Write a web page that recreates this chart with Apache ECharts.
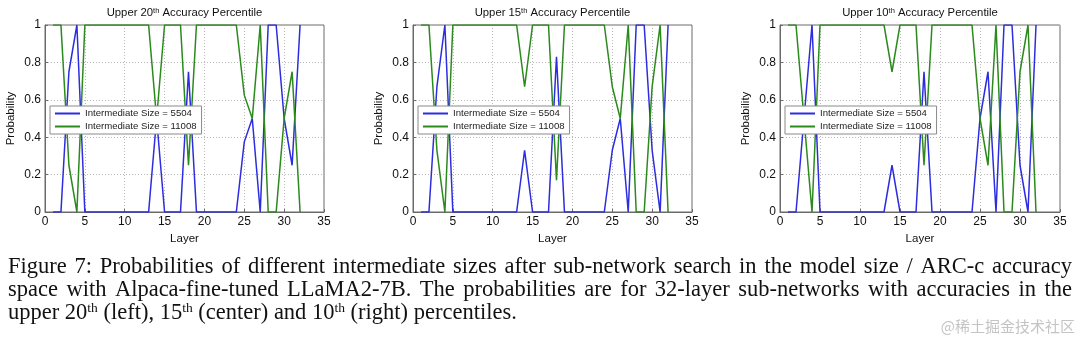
<!DOCTYPE html>
<html>
<head>
<meta charset="utf-8">
<script src="https://cdn.jsdelivr.net/npm/echarts@6/dist/echarts.min.js"></script>
<style>
  html, body { margin: 0; padding: 0; background: #fff; }
  #chart { width: 1080px; height: 340px; }
</style>
</head>
<body>
<div id="chart"></div>
<script>
// Layer indices of the 32-layer sub-networks
const layers = [1, 2, 3, 4, 5, 6, 7, 8, 9, 10, 11, 12, 13, 14, 15, 16,
                17, 18, 19, 20, 21, 22, 23, 24, 25, 26, 27, 28, 29, 30, 31, 32];

// Upper 20th percentile
const p20_5504  = [0, 0, 0.75, 1, 0, 0, 0, 0, 0, 0, 0, 0, 0, 0.5, 0, 0,
                   0, 0.75, 0, 0, 0, 0, 0, 0, 0.375, 0.5, 0, 1, 1, 0.5, 0.25, 1];
const p20_11008 = [1, 1, 0.25, 0, 1, 1, 1, 1, 1, 1, 1, 1, 1, 0.5, 1, 1,
                   1, 0.25, 1, 1, 1, 1, 1, 1, 0.625, 0.5, 1, 0, 0, 0.5, 0.75, 0];

// Upper 15th percentile
const p15_5504  = [0, 0, 0.67, 1, 0, 0, 0, 0, 0, 0, 0, 0, 0, 0.33, 0, 0,
                   0, 0.83, 0, 0, 0, 0, 0, 0, 0.33, 0.5, 0, 1, 1, 0.33, 0, 1];
const p15_11008 = [1, 1, 0.33, 0, 1, 1, 1, 1, 1, 1, 1, 1, 1, 0.67, 1, 1,
                   1, 0.17, 1, 1, 1, 1, 1, 1, 0.67, 0.5, 1, 0, 0, 0.67, 1, 0];

// Upper 10th percentile
const p10_5504  = [0, 0, 0.5, 1, 0, 0, 0, 0, 0, 0, 0, 0, 0, 0.25, 0, 0,
                   0, 0.75, 0, 0, 0, 0, 0, 0, 0.5, 0.75, 0, 1, 1, 0.25, 0, 1];
const p10_11008 = [1, 1, 0.5, 0, 1, 1, 1, 1, 1, 1, 1, 1, 1, 0.75, 1, 1,
                   1, 0.25, 1, 1, 1, 1, 1, 1, 0.5, 0.25, 1, 0, 0, 0.75, 1, 0];

const panelPercentiles = ['20', '15', '10'];
const seriesNames = ['Intermediate Size = 5504', 'Intermediate Size = 11008'];
const xTicks = [0, 5, 10, 15, 20, 25, 30, 35];
const yTicks = [0, 0.2, 0.4, 0.6, 0.8, 1];

const captionLines = [
  'Figure 7: Probabilities of different intermediate sizes after sub-network search in the model size / ARC-c accuracy',
  'space with Alpaca-fine-tuned LLaMA2-7B. The probabilities are for 32-layer sub-networks with accuracies in the'
];
const captionLast = 'upper 20{s|th} (left), 15{s|th} (center) and 10{s|th} (right) percentiles.';
const watermark = '@稀土掘金技术社区';

const panelData = [[p20_5504, p20_11008], [p15_5504, p15_11008], [p10_5504, p10_11008]];

// ---- layout ----
const panels = [
  { left: 45,  width: 279 },
  { left: 413, width: 279 },
  { left: 780, width: 280 }
];
const plotTop = 25, plotHeight = 187;
const colors = ['#2c2ce0', '#2a8a1c'];
const sansFont = 'Liberation Sans, Arial, Helvetica, sans-serif';
const serifFont = 'Liberation Serif, Times New Roman, serif';

const grid = [], xAxis = [], yAxis = [], series = [], legend = [], graphic = [];

panels.forEach((p, i) => {
  grid.push({
    left: p.left, top: plotTop, width: p.width, height: plotHeight,
    show: true, borderColor: '#6a6a6a', borderWidth: 1, backgroundColor: '#fff'
  });
  xAxis.push({
    type: 'value', gridIndex: i,
    min: xTicks[0], max: xTicks[xTicks.length - 1], interval: xTicks[1] - xTicks[0],
    name: 'Layer', nameLocation: 'middle', nameGap: 20,
    nameTextStyle: { fontFamily: sansFont, fontSize: 11.5, color: '#111' },
    axisLine: { show: true, lineStyle: { color: '#6a6a6a', width: 1 } },
    axisTick: { show: true, inside: true, length: 3, lineStyle: { color: '#6a6a6a' } },
    axisLabel: { fontFamily: sansFont, fontSize: 12, color: '#111', margin: 4 },
    splitLine: { show: true, lineStyle: { color: '#b8b8b8', type: [1, 2], width: 1 } }
  });
  yAxis.push({
    type: 'value', gridIndex: i,
    min: yTicks[0], max: yTicks[yTicks.length - 1], interval: yTicks[1] - yTicks[0],
    name: 'Probability', nameLocation: 'middle', nameGap: 28,
    nameTextStyle: { fontFamily: sansFont, fontSize: 11.5, color: '#111' },
    axisLine: { show: true, lineStyle: { color: '#6a6a6a', width: 1 } },
    axisTick: { show: true, inside: true, length: 3, lineStyle: { color: '#6a6a6a' } },
    axisLabel: { fontFamily: sansFont, fontSize: 12, color: '#111', margin: 4 },
    splitLine: { show: true, lineStyle: { color: '#b8b8b8', type: [1, 2], width: 1 } }
  });
  panelData[i].forEach((vals, k) => {
    series.push({
      type: 'line', name: seriesNames[k],
      xAxisIndex: i, yAxisIndex: i,
      data: layers.map((l, j) => [l, vals[j]]),
      showSymbol: false, symbol: 'none',
      lineStyle: { color: colors[k], width: 1.5 },
      itemStyle: { color: colors[k] },
      animation: false, z: 2
    });
  });
  legend.push({
    data: seriesNames, orient: 'vertical',
    left: p.left + 5, top: 106,
    icon: 'rect', itemWidth: 25, itemHeight: 2, itemGap: 2,
    padding: [2, 5, 2, 5],
    backgroundColor: '#fff', borderColor: '#8a8a8a', borderWidth: 1, borderRadius: 0,
    textStyle: { fontFamily: sansFont, fontSize: 9.6, color: '#222', lineHeight: 11 },
    selectedMode: false, z: 10
  });
  // panel title with superscript ordinal
  graphic.push({
    type: 'text', z: 20,
    style: {
      x: p.left + p.width / 2, y: 13,
      text: 'Upper ' + panelPercentiles[i] + '{s|th} Accuracy Percentile',
      align: 'center', verticalAlign: 'middle',
      fontFamily: sansFont, fontSize: 11.3, fill: '#111',
      rich: { s: { fontSize: 7.5, verticalAlign: 'top', padding: [0, 0, 5, 0], fontFamily: sansFont, fill: '#111' } }
    }
  });
});

// ---- caption (justified lines, last line flush left) ----
const capSize = 22.5;
const capLeft = 8, capRight = 1072;
const capY = [267, 290, 313];
const measureCtx = document.createElement('canvas').getContext('2d');
measureCtx.font = capSize + 'px ' + serifFont;

captionLines.forEach((line, li) => {
  const words = line.split(' ');
  const widths = words.map(w => measureCtx.measureText(w).width);
  const total = widths.reduce((a, b) => a + b, 0);
  const gap = (capRight - capLeft - total) / (words.length - 1);
  let x = capLeft;
  words.forEach((w, wi) => {
    graphic.push({
      type: 'text', z: 20,
      style: { x: x, y: capY[li], text: w, align: 'left', verticalAlign: 'middle',
               fontFamily: serifFont, fontSize: capSize, fill: '#111' }
    });
    x += widths[wi] + gap;
  });
});
graphic.push({
  type: 'text', z: 20,
  style: {
    x: capLeft, y: capY[2], text: captionLast, align: 'left', verticalAlign: 'middle',
    fontFamily: serifFont, fontSize: capSize, fill: '#111',
    rich: { s: { fontSize: 13.5, verticalAlign: 'top', padding: [0, 0, 9, 0], fontFamily: serifFont, fill: '#111' } }
  }
});
graphic.push({
  type: 'text', z: 20,
  style: {
    x: 1075, y: 326, text: watermark, align: 'right', verticalAlign: 'middle',
    fontFamily: 'Noto Sans CJK SC, sans-serif', fontSize: 15, fill: '#c4c4c4'
  }
});

const chart = echarts.init(document.getElementById('chart'), null, { renderer: 'canvas' });
chart.setOption({
  animation: false,
  backgroundColor: '#fff',
  grid, xAxis, yAxis, series, legend, graphic
});
</script>
</body>
</html>
